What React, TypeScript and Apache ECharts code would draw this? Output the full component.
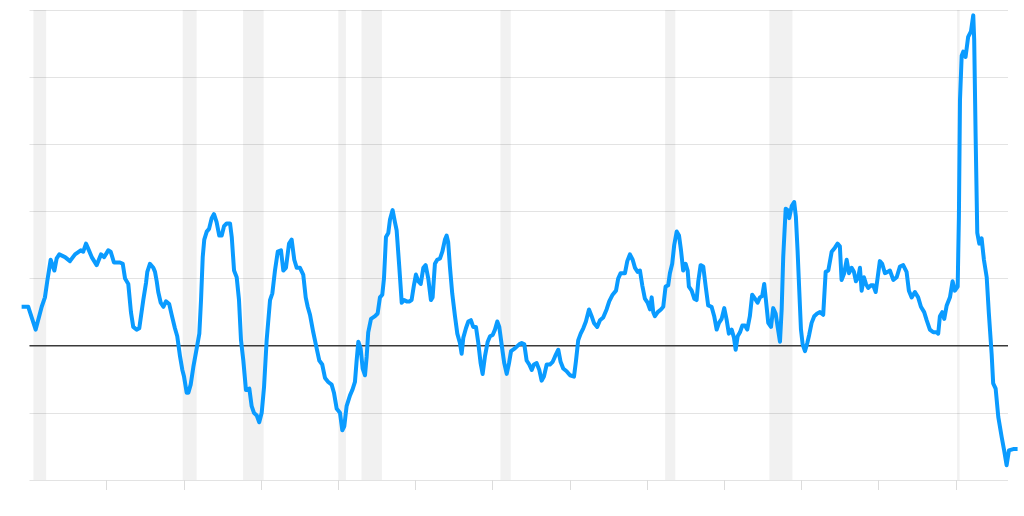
import React, { useEffect, useRef } from "react";
import * as echarts from "echarts";

// Decimal years of each observation
const years: number[] = [
  1959.49, 1959.92, 1960.4, 1960.79, 1961.0, 1961.15, 1961.37, 1961.61, 1961.76, 1961.93,
  1962.3, 1962.62, 1962.95, 1963.32, 1963.48, 1963.66, 1963.85, 1964.03, 1964.35, 1964.63,
  1964.84, 1965.1, 1965.26, 1965.47, 1965.86, 1966.04, 1966.19, 1966.4, 1966.57, 1966.72,
  1966.94, 1967.11, 1967.37, 1967.55, 1967.63, 1967.8, 1968.02, 1968.13, 1968.24, 1968.34,
  1968.5, 1968.67, 1968.84, 1969.05, 1969.21, 1969.42, 1969.57, 1969.75, 1969.9, 1970.01,
  1970.18, 1970.29, 1970.44, 1970.61, 1970.83, 1971.0, 1971.11, 1971.22, 1971.32, 1971.48,
  1971.63, 1971.8, 1971.95, 1972.12, 1972.29, 1972.45, 1972.6, 1972.77, 1972.99, 1973.1,
  1973.25, 1973.42, 1973.57, 1973.7, 1973.85, 1974.02, 1974.24, 1974.39, 1974.54, 1974.72,
  1974.88, 1975.04, 1975.19, 1975.36, 1975.58, 1975.73, 1975.9, 1976.08, 1976.29, 1976.44,
  1976.61, 1976.81, 1976.98, 1977.15, 1977.31, 1977.52, 1977.73, 1977.89, 1978.02, 1978.17,
  1978.38, 1978.6, 1978.77, 1978.96, 1979.14, 1979.35, 1979.57, 1979.72, 1979.9, 1980.11,
  1980.26, 1980.39, 1980.54, 1980.76, 1980.91, 1981.08, 1981.19, 1981.3, 1981.45, 1981.58,
  1981.73, 1981.84, 1981.94, 1982.12, 1982.38, 1982.55, 1982.7, 1982.85, 1982.96, 1983.09,
  1983.24, 1983.35, 1983.52, 1983.67, 1983.78, 1983.95, 1984.11, 1984.26, 1984.43, 1984.6,
  1984.75, 1984.9, 1985.03, 1985.18, 1985.34, 1985.51, 1985.66, 1985.83, 1986.0, 1986.11,
  1986.26, 1986.41, 1986.59, 1986.74, 1986.91, 1987.02, 1987.12, 1987.23, 1987.38, 1987.56,
  1987.71, 1987.88, 1987.99, 1988.1, 1988.27, 1988.42, 1988.59, 1988.74, 1988.92, 1989.07,
  1989.22, 1989.35, 1989.5, 1989.68, 1989.83, 1990.0, 1990.15, 1990.3, 1990.43, 1990.58,
  1990.75, 1990.91, 1991.06, 1991.19, 1991.44, 1991.72, 1991.88, 1992.05, 1992.2, 1992.37,
  1992.53, 1992.67, 1992.85, 1993.02, 1993.17, 1993.32, 1993.5, 1993.71, 1993.89, 1994.04,
  1994.25, 1994.4, 1994.57, 1994.79, 1995.01, 1995.27, 1995.4, 1995.54, 1995.7, 1995.87,
  1996.04, 1996.24, 1996.41, 1996.56, 1996.77, 1996.95, 1997.16, 1997.38, 1997.55, 1997.77,
  1997.99, 1998.13, 1998.29, 1998.57, 1998.72, 1998.89, 1999.07, 1999.22, 1999.39, 1999.54,
  1999.69, 1999.86, 2000.04, 2000.19, 2000.3, 2000.4, 2000.51, 2000.69, 2000.9, 2001.05,
  2001.2, 2001.37, 2001.48, 2001.63, 2001.76, 2001.92, 2002.07, 2002.2, 2002.34, 2002.5,
  2002.63, 2002.71, 2002.89, 2003.06, 2003.21, 2003.32, 2003.47, 2003.64, 2003.8, 2003.96,
  2004.18, 2004.35, 2004.51, 2004.66, 2004.83, 2005.0, 2005.16, 2005.3, 2005.48, 2005.63,
  2005.74, 2005.87, 2006.02, 2006.17, 2006.34, 2006.49, 2006.66, 2006.81, 2006.99, 2007.16,
  2007.31, 2007.46, 2007.59, 2007.7, 2007.85, 2008.03, 2008.17, 2008.33, 2008.46, 2008.61,
  2008.72, 2008.82, 2008.98, 2009.11, 2009.21, 2009.37, 2009.53, 2009.64, 2009.75, 2009.86,
  2009.97, 2010.08, 2010.23, 2010.38, 2010.5, 2010.66, 2010.83, 2011.02, 2011.2, 2011.41,
  2011.57, 2011.74, 2011.96, 2012.17, 2012.34, 2012.49, 2012.6, 2012.77, 2012.93, 2013.08,
  2013.25, 2013.4, 2013.53, 2013.68, 2013.79, 2013.9, 2014.05, 2014.18, 2014.33, 2014.5,
  2014.65, 2014.81, 2014.94, 2015.08, 2015.23, 2015.41, 2015.58, 2015.73, 2015.95, 2016.17,
  2016.38, 2016.59, 2016.81, 2016.96, 2017.14, 2017.35, 2017.56, 2017.74, 2017.95, 2018.11,
  2018.32, 2018.54, 2018.76, 2018.86, 2018.97, 2019.12, 2019.25, 2019.41, 2019.62, 2019.79,
  2019.94, 2020.12, 2020.2, 2020.27, 2020.38, 2020.48, 2020.63, 2020.8, 2020.98, 2021.13,
  2021.19, 2021.28, 2021.39, 2021.52, 2021.67, 2021.82, 2022.0, 2022.14, 2022.32, 2022.42,
  2022.58, 2022.75, 2022.97, 2023.13, 2023.29, 2023.44, 2023.72, 2024.0,
];

// Growth rate, percent
const values: number[] = [
  2.9, 2.9, 1.2, 2.9, 3.6, 4.8, 6.4, 5.6, 6.5, 6.8,
  6.6, 6.3, 6.8, 7.1, 7.0, 7.6, 7.1, 6.6, 6.0, 6.8,
  6.6, 7.1, 7.0, 6.2, 6.2, 6.1, 5.0, 4.6, 2.5, 1.4,
  1.2, 1.3, 3.4, 4.7, 5.5, 6.1, 5.8, 5.5, 4.8, 4.0,
  3.2, 2.9, 3.3, 3.1, 2.3, 1.3, 0.7, -0.8, -1.8, -2.3,
  -3.5, -3.5, -2.9, -1.6, -0.2, 0.9, 3.4, 6.6, 7.9, 8.5,
  8.7, 9.5, 9.8, 9.2, 8.2, 8.2, 8.9, 9.1, 9.1, 8.1,
  5.6, 5.1, 3.4, 0.4, -1.1, -3.3, -3.2, -4.5, -5.0, -5.2,
  -5.7, -5.0, -3.1, 0.4, 3.4, 3.9, 5.6, 7.0, 7.1, 5.6,
  5.8, 7.6, 7.9, 6.4, 5.8, 5.8, 5.3, 3.6, 2.9, 2.3,
  1.0, -0.2, -1.1, -1.4, -2.4, -2.7, -2.9, -3.5, -4.7, -5.0,
  -6.3, -6.0, -4.5, -3.7, -3.3, -2.7, -1.1, 0.3, -0.2, -1.7,
  -2.2, -0.8, 1.0, 2.0, 2.2, 2.4, 3.6, 3.8, 5.0, 8.1,
  8.4, 9.4, 10.1, 9.2, 8.6, 5.9, 3.2, 3.4, 3.3, 3.3,
  3.4, 4.5, 5.3, 4.8, 4.6, 5.8, 6.0, 5.0, 3.4, 3.6,
  6.1, 6.4, 6.5, 7.0, 7.9, 8.2, 7.7, 5.9, 3.9, 2.2,
  0.9, 0.2, -0.6, 0.6, 1.3, 1.8, 1.9, 1.4, 1.4, 0.2,
  -1.3, -2.1, -0.8, 0.3, 0.7, 0.8, 1.2, 1.8, 1.4, 0.1,
  -1.3, -2.1, -1.3, -0.4, -0.2, 0.1, 0.2, 0.1, -1.1, -1.4,
  -1.8, -1.4, -1.3, -1.8, -2.6, -2.3, -1.4, -1.4, -1.2, -0.8,
  -0.3, -1.2, -1.7, -1.9, -2.2, -2.3, -1.1, 0.4, 0.9, 1.3,
  1.8, 2.7, 2.2, 1.7, 1.4, 1.9, 2.1, 2.7, 3.3, 3.8,
  4.1, 5.0, 5.4, 5.4, 6.3, 6.8, 6.4, 5.8, 5.5, 5.6,
  4.5, 3.5, 3.2, 2.7, 3.6, 2.5, 2.2, 2.5, 2.7, 2.9,
  4.4, 4.5, 5.4, 6.1, 7.5, 8.5, 8.2, 7.1, 5.6, 6.1,
  5.6, 4.4, 4.1, 3.5, 3.4, 4.8, 6.0, 5.9, 4.4, 3.0,
  2.9, 2.2, 1.2, 1.7, 2.0, 2.8, 1.9, 0.9, 1.2, 0.6,
  -0.3, 0.7, 1.0, 1.5, 1.5, 1.2, 2.2, 3.8, 3.5, 3.2,
  3.6, 3.7, 4.6, 3.4, 1.7, 1.4, 2.8, 2.4, 1.4, 0.3,
  2.7, 6.6, 10.2, 10.1, 9.5, 10.4, 10.7, 9.6, 7.1, 4.1,
  1.2, 0.1, -0.4, 0.2, 0.8, 1.7, 2.2, 2.4, 2.5, 2.3,
  5.5, 5.6, 7.0, 7.3, 7.6, 7.4, 4.9, 5.4, 6.4, 5.4,
  5.8, 5.5, 4.8, 5.1, 5.8, 4.1, 5.1, 4.6, 4.3, 4.5,
  4.5, 4.0, 5.1, 6.3, 6.1, 5.4, 5.5, 5.6, 4.9, 5.1,
  5.9, 6.0, 5.5, 4.1, 3.6, 4.0, 3.6, 2.9, 2.5, 1.9,
  1.2, 1.0, 1.0, 0.9, 2.2, 2.5, 2.0, 3.0, 3.6, 4.8,
  4.1, 4.4, 9.6, 18.3, 21.6, 21.9, 21.5, 23.0, 23.4, 24.6,
  22.8, 15.8, 8.4, 7.6, 8.0, 6.4, 5.1, 2.4, -0.6, -2.8,
  -3.2, -5.3, -6.8, -7.8, -8.9, -7.8, -7.7, -7.7,
];

// Recession periods (decimal years)
const recessionStarts: number[] = [1960.25, 1969.92, 1973.83, 1980.0, 1981.5, 1990.5, 2001.17, 2007.92, 2020.08];
const recessionEnds: number[] = [1961.08, 1970.83, 1975.17, 1980.5, 1982.83, 1991.17, 2001.83, 2009.42, 2020.25];

// Tick positions on the x axis
const xTicks: number[] = [1965, 1970, 1975, 1980, 1985, 1990, 1995, 2000, 2005, 2010, 2015, 2020];

// Framed (gridline) range and the wider range the line overhangs into
const xMin = 1960;
const xMax = 2023.38;
const lineMin = 1959.4;
const lineMax = 2024.1;
const yMin = -10;
const yMax = 25;
const yStep = 5;

export default function App() {
  const ref = useRef<HTMLDivElement>(null);

  useEffect(() => {
    if (!ref.current) return;
    const chart = echarts.init(ref.current, null, { renderer: "svg" });
    const lineData = years.map((y, i) => [y, values[i]]);
    const bands = recessionStarts.map((s, i) => [{ xAxis: s }, { xAxis: recessionEnds[i] }]);

    const W = 1024;
    const left = 29.5;
    const right = 16;
    const pxPerYear = (W - left - right) / (xMax - xMin);
    const left2 = left - (xMin - lineMin) * pxPerYear;
    const right2 = W - (left + (lineMax - xMin) * pxPerYear);

    chart.setOption({
      animation: false,
      backgroundColor: "#ffffff",
      grid: [
        { left, right, top: 10, bottom: 36, containLabel: false },
        { left: left2, right: right2, top: 10, bottom: 36, containLabel: false },
      ],
      xAxis: [
        {
          type: "value",
          gridIndex: 0,
          min: xMin,
          max: xMax,
          axisLine: { show: false, onZero: false },
          axisLabel: { show: false },
          splitLine: { show: false },
          axisTick: {
            show: true,
            length: 10,
            customValues: xTicks,
            lineStyle: { color: "#dcdcdc", width: 1 },
          },
        },
        {
          type: "value",
          gridIndex: 1,
          min: lineMin,
          max: lineMax,
          show: false,
          axisLine: { onZero: false },
        },
      ],
      yAxis: [
        {
          type: "value",
          gridIndex: 0,
          min: yMin,
          max: yMax,
          interval: yStep,
          axisLine: { show: false },
          axisTick: { show: false },
          axisLabel: { show: false },
          splitLine: { show: true, lineStyle: { color: "#e3e3e3", width: 1.2 } },
        },
        {
          type: "value",
          gridIndex: 1,
          min: yMin,
          max: yMax,
          interval: yStep,
          show: false,
        },
      ],
      series: [
        {
          type: "line",
          xAxisIndex: 0,
          yAxisIndex: 0,
          z: 1,
          silent: true,
          symbol: "none",
          data: [
            [xMin, 0],
            [xMax, 0],
          ],
          lineStyle: { color: "#3a3a3a", width: 1.4 },
          markArea: {
            silent: true,
            itemStyle: { color: "rgba(0,0,0,0.055)" },
            data: bands,
          },
        },
        {
          type: "line",
          xAxisIndex: 1,
          yAxisIndex: 1,
          z: 3,
          symbol: "none",
          data: lineData,
          lineStyle: { color: "#0a9bff", width: 4, join: "round" },
        },
      ],
    });

    return () => chart.dispose();
  }, []);

  return (
    <div
      ref={ref}
      style={{ position: "fixed", left: 0, top: 0, width: 1024, height: 516 }}
    />
  );
}
